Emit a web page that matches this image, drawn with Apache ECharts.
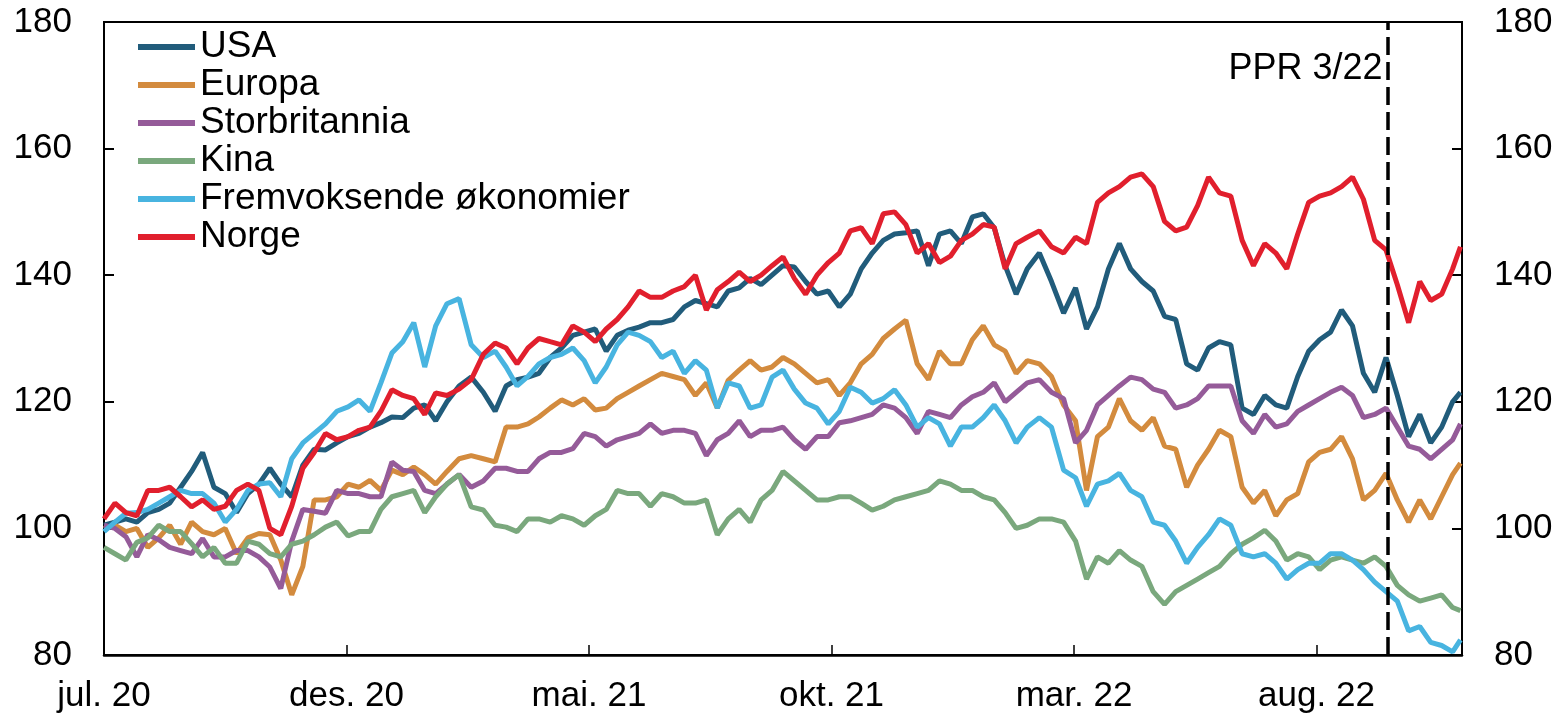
<!DOCTYPE html>
<html><head><meta charset="utf-8">
<script src="https://cdn.jsdelivr.net/npm/echarts/dist/echarts.min.js"></script>
<style>html,body{margin:0;padding:0;background:#fff}#c{width:1566px;height:719px}</style>
</head><body><div id="c"></div><script>
// Weekly observations from 1 Jul 2020, last observation 31 Oct 2022
const START = '2020-07-01';
const END = '2022-10-31';
const MONTH_NAMES = ['jan.','feb.','mar.','apr.','mai.','jun.','jul.','aug.','sep.','okt.','nov.','des.'];
const PPR_DATE = '2022-09-15';
const PPR_LABEL = 'PPR 3/22';
const PPR_LABEL_LEVEL = 172.5;

const seriesNames = ['USA','Europa','Storbritannia','Kina','Fremvoksende økonomier','Norge'];
const seriesColors = ['#215C7B','#D38B3E','#955B99','#7AA87D','#48B4E0','#E11F2D'];

const usa = [100.5,101,101.5,101,102.5,103,104,106.5,109,112,106.5,105.5,102.5,105.5,107,109.5,107,105,110,112.5,112.4,113.5,114.5,115,116,116.7,117.6,117.5,119,119.5,117,120,122.5,123.9,121.5,118.5,122.5,123.5,123.9,124.5,127,128.5,130.5,131,131.5,128,130.5,131.3,131.8,132.5,132.5,133,135,136,135.5,135,137.5,138,139.5,138.5,140,141.5,141.3,139,137,137.5,135,137,141,143.5,145.5,146.5,146.7,147,141.5,146.5,147,145,149.2,149.7,147.5,141.5,137,141,143.5,139,134,138,131.5,135,141,145,141,139,137.5,133.5,133,126,125,128.5,129.5,129,119,118,121,119.5,119,124,128,129.8,131,134.5,132,124.5,121.5,127,121,114.5,118,113.5,116,120,121.5];
const europa = [100,100.5,99.5,100,97,98.5,100.5,97.5,101,99.5,99,100,96,98.5,99.2,99,95,89.5,94,104.5,104.5,105,107,106.5,107.6,106,109.2,108.5,109.7,108.5,107,109,111,111.5,111,110.5,116,116,116.5,117.6,119,120.3,119.5,120.5,118.7,119,120.5,121.5,122.5,123.5,124.5,124,123.5,121,123,119,123.4,125,126.5,125,125.5,127,126,124.5,123,123.5,121,123,126,127.5,130,131.5,132.9,126,123.5,128,126,126,129.8,132,129,128,124.5,126.5,126,124,119.5,117,106,114.5,116,120.5,117,115.5,117.5,113,112.5,106.5,110,112.5,115.5,114.5,106.5,104,106,102,104.5,105.5,110.5,112,112.5,114.5,111,104.5,106,108.7,104.5,101,104.5,101.5,105,108.5,110.3];
const storbritannia = [100.5,100,98.7,95.5,99,98.2,97,96.5,96,98.4,95.5,95.5,96.5,96.5,95.5,93.9,90.5,98,103,102.7,102.4,106,105.5,105.5,105,105,110.5,109.2,109,106,105.5,107,108.5,106.5,107.5,109.5,109.5,109,109,111,112,112,112.6,115,114.5,113,114,114.5,115,116.5,115,115.5,115.5,115,111.5,114,115,117,114.5,115.5,115.5,116,114,112.5,114.5,114.5,116.7,117,117.5,118,119.5,119,117.5,115,118.5,118,117.5,119.5,120.8,121.5,123,120,121.5,123,123.5,121.5,120.5,113.5,115.5,119.5,121,122.5,123.9,123.5,122,121.5,119,119.5,120.5,122.5,122.5,122.5,117,115,118,116,116.5,118.5,119.5,120.5,121.5,122.3,121,117.5,118,119,116,113,112.5,111,112.5,114,116.5];
const kina = [97,96,95,97.8,98.5,100.5,99.5,99.5,97.6,95.5,97,94.5,94.5,98,97.5,96,95.5,97.5,98,99,100.2,101,98.8,99.5,99.5,103,105,105.5,106,102.5,105,107,108.5,103.4,102.9,100.5,100.2,99.5,101.5,101.5,101,102,101.5,100.5,102,103,106,105.5,105.5,103.5,105.5,105,104,104,104.5,99,101.5,103,101,104.5,106,109,107.5,106,104.5,104.5,105,105,104,102.9,103.5,104.5,105,105.5,106,107.5,107,106,106,105,104.5,102.5,100,100.5,101.5,101.5,101,98,92,95.5,94.5,96.5,95,94,90,88,90,91,92,93,94,96,97.5,98.5,99.7,98,95,96,95.5,93.5,95,95.5,95,94.5,95.5,94,91,89.5,88.5,89,89.5,87.5,87];
const fremvoksende = [99.5,101,102.4,102.5,103,104,105,106,105.5,105.5,104,101,103,106,107,107.2,105,111,113.5,115,116.5,118.5,119.2,120.3,118.5,123,127.7,129.5,132.5,125.5,132,135.5,136.3,129,127,128,125.5,122.5,124,126,127,127.5,128.5,126.5,123,125.5,129,131,130.5,129.5,127,128,124.5,126.5,125,119,123,122.5,119,119.5,123.9,125,122,119.8,119,116.5,118.5,122.3,121.5,119.8,120.5,121.9,119.5,116,117.5,116.5,113,116,116,117.5,119.5,117,113.5,116,117.5,116,109.2,108,103.5,107,107.5,108.7,106,105,101,100.5,98,94.5,97,99,101.5,100.5,96,95.5,96,94.5,92,93.5,94.5,94.5,96,96,95,93.5,91.5,90,88.5,83.8,84.5,82,81.5,80.5,82.4];
const norge = [101.5,104,102.5,102,106,106,106.5,105,103.4,104.5,103,103.5,106,107,106,100,99,103.5,109.5,112,115,114,114.5,115.5,116,118.5,121.9,121,120.5,118,121.4,121,122,123.5,127.5,129.3,128.5,126,128.5,130,129.5,129,132,131,129.5,131.5,133,135,137.5,136.5,136.5,137.5,138.2,140,134.5,137.7,139,140.5,139,140,141.5,142.9,139.5,137,140,142,143.5,147,147.5,145,149.7,150,148,143.5,145,142,143,145.5,146.5,148,147.6,141,145,146,147,144.5,143.5,146,145,151.5,153,154,155.5,156,154,148.5,147,147.6,151,155.5,153,152.5,145.5,141.5,145,143.5,141,146.5,151.5,152.5,153,154,155.5,152,145.5,144,138.5,132.5,139,136,137,141,144.5];
const seriesValues = [usa, europa, storbritannia, kina, fremvoksende, norge];

const yTicks = {min: 80, max: 180, step: 20};

// date -> months since start (the chart's date axis is laid out in months)
function monthPos(dateStr) {
  const [y, m, d] = dateStr.split('-').map(Number);
  const [y0, m0] = START.split('-').map(Number);
  const dim = new Date(Date.UTC(y, m, 0)).getUTCDate();
  return (y - y0) * 12 + (m - m0) + (d - 1) / dim;
}
function isoDate(t) { return new Date(t).toISOString().slice(0, 10); }
const dates = [];
{
  const t0 = Date.parse(START + 'T00:00:00Z');
  const tEnd = Date.parse(END + 'T00:00:00Z');
  for (let t = t0; t < tEnd - 3 * 864e5; t += 7 * 864e5) dates.push(isoDate(t));
  dates.push(END);
}
const xPos = dates.map(monthPos);
const xMax = monthPos('2022-11-01');

const FONT = "'Liberation Sans', Arial, sans-serif";

const lineSeries = seriesNames.map((name, i) => ({
  name, type: 'line', showSymbol: false, symbol: 'none',
  data: seriesValues[i].map((v, k) => [xPos[k], v]),
  lineStyle: {color: seriesColors[i], width: 5},
  itemStyle: {color: seriesColors[i]},
  clip: true
}));

lineSeries.push({
  name: 'ppr', type: 'scatter', symbolSize: 0, silent: true,
  itemStyle: {opacity: 1, color: '#000'},
  data: [[monthPos(PPR_DATE), PPR_LABEL_LEVEL]],
  label: {show: true, position: 'left', distance: 5, formatter: PPR_LABEL,
          fontSize: 36, fontFamily: FONT, color: '#000', opacity: 1, textBorderWidth: 0},
  markLine: {
    silent: true, symbol: ['none', 'none'], label: {show: false},
    lineStyle: {color: '#000', width: 3.5, type: [18, 7], opacity: 1},
    data: [{xAxis: monthPos(PPR_DATE)}]
  }
});

function yAxis(pos) {
  return {
    type: 'value', position: pos, min: yTicks.min, max: yTicks.max, interval: yTicks.step,
    axisLine: {show: true, lineStyle: {color: '#000', width: 2}},
    axisTick: {show: true, inside: true, length: 10, lineStyle: {color: '#000', width: 2}},
    axisLabel: {fontSize: 35, fontFamily: FONT, color: '#000', margin: 32},
    splitLine: {show: false}
  };
}

const chart = echarts.init(document.getElementById('c'), null, {renderer: 'canvas'});
chart.setOption({
  animation: false,
  backgroundColor: '#fff',
  grid: {left: 104, right: 104, top: 22, bottom: 64, show: true, borderColor: '#000', borderWidth: 2, backgroundColor: 'transparent'},
  legend: {
    data: seriesNames, orient: 'vertical', left: 133, top: 23,
    icon: 'rect', itemWidth: 57, itemHeight: 6, itemGap: 0,
    textStyle: {fontSize: 37, fontFamily: FONT, color: '#000', lineHeight: 38},
    selectedMode: false
  },
  xAxis: {
    type: 'value', min: 0, max: xMax, interval: 5,
    axisLine: {show: true, onZero: false, lineStyle: {color: '#000', width: 2.5}},
    axisTick: {show: true, inside: true, length: 10, lineStyle: {color: '#000', width: 1.5}},
    axisLabel: {fontSize: 35, fontFamily: FONT, color: '#000', margin: 24, showMaxLabel: false,
      formatter: v => {
        if (Math.abs(v % 5) > 1e-6) return '';
        const idx = Math.round(v) + 6;
        return MONTH_NAMES[idx % 12] + ' ' + (20 + Math.floor(idx / 12));
      }},
    splitLine: {show: false}
  },
  yAxis: [yAxis('left'), yAxis('right')],
  series: lineSeries
});
</script></body></html>
